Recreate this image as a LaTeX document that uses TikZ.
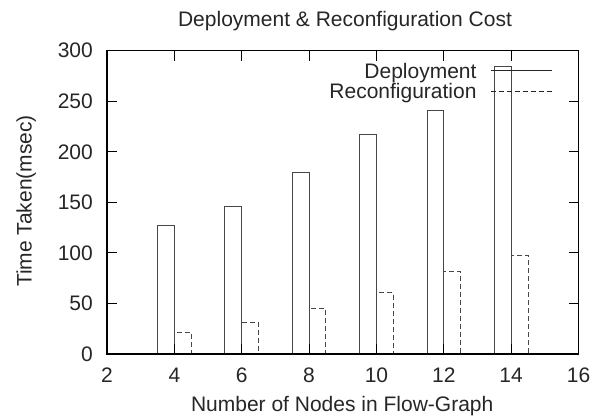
\documentclass[tikz,border=0pt]{standalone}
\usepackage{fontspec}
\setmainfont{Liberation Sans}
\begin{document}
\begin{tikzpicture}[x=1pt,y=1pt,
  lbl/.style={font=\fontsize{21}{24}\selectfont, inner sep=0pt, text=black!85},
  frame/.style={line width=1.3pt, black},
  tickmark/.style={line width=1.1pt, black},
  depbar/.style={line width=0.9pt, draw=black!72},
  recbar/.style={depbar, dash pattern=on 5pt off 3pt},
  keyline/.style={line width=0.8pt, draw=black!85},
]
\useasboundingbox (0,0) rectangle (594,415);

% title and axis titles
\node[lbl, anchor=base] (title) at (345,388.3) {Deployment \& Reconfiguration Cost};
\node[lbl, anchor=base] (xlabel) at (342.2,3.6) {Number of Nodes in Flow-Graph};
\node[lbl, anchor=base, rotate=90] (ylabel) at (31.7,214) {Time Taken(msec)};

% data area: x in [2,16], y in [0,300]
\begin{scope}[shift={(39.64pt,61pt)}, x=33.68pt, y=1.011pt]
  % bars: deployment (solid) left of each tick, reconfiguration (dashed) right of it
  \foreach \n/\d/\r in {4/127/21.5, 6/146/31.3, 8/179.3/45.2, 10/216.9/60.6, 12/241.3/81.8, 14/284.5/97.3}{
    \draw[depbar] (\n-0.5,0) |- (\n,\d) -- (\n,0);
    \draw[recbar] (\n,0) |- (\n+0.5,\r) -- (\n+0.5,0);
  }
  % ticks
  \foreach \n in {4,6,...,14}{
    \draw[tickmark] (\n,0) -- (\n,9.9);
    \draw[tickmark] (\n,300) -- (\n,290.1);
  }
  \foreach \v in {50,100,...,250}{
    \draw[tickmark] (2,\v) -- (2.297,\v);
    \draw[tickmark] (16,\v) -- (15.703,\v);
  }
  % frame
  \draw[frame] (2,0) rectangle (16,300);
  % tick labels
  \foreach \n in {2,4,...,16}{
    \node[lbl, anchor=base] (xt\n) at ([yshift=-28.7pt]\n,0) {\n};
  }
  \foreach \v in {0,50,...,300}{
    \node[lbl, anchor=east] (yt\v) at ([xshift=-14pt]2,\v) {\v};
  }
\end{scope}

% key
\node[lbl, anchor=base east] (kdep) at (476.7,336.7) {Deployment};
\node[lbl, anchor=base east] (krec) at (476.7,316) {Reconfiguration};
\coordinate (kdepa) at (490.7,344.3);
\coordinate (kdepb) at (552.3,344.3);
\coordinate (kreca) at (490.7,323.7);
\coordinate (krecb) at (552.3,323.7);
\draw[keyline] (kdepa) -- (kdepb);
\draw[keyline, dash pattern=on 5pt off 3pt] (kreca) -- (krecb);
\end{tikzpicture}
\end{document}
